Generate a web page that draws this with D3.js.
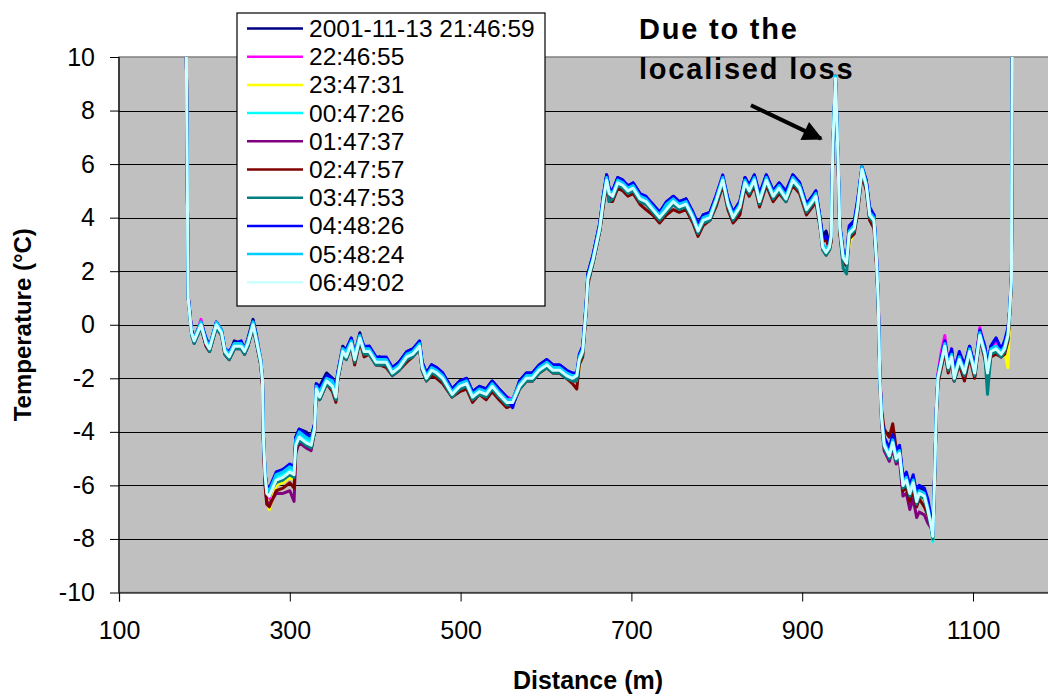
<!DOCTYPE html>
<html>
<head>
<meta charset="utf-8">
<script src="https://cdn.jsdelivr.net/npm/d3@7"></script>
<style>
    body { margin: 0; background: #fff; }
    svg { display: block; font-family: "Liberation Sans", Arial, sans-serif; }
</style>
</head>
<body>
<svg id="chart" width="1048" height="695"></svg>
<script>
// distance along the fibre (m)
let distance = [177, 181, 185, 188, 196, 202, 206, 214, 220, 224,
    229, 235, 243, 247, 251, 257, 261, 266, 268, 269,
    271, 273, 276, 284, 292, 300, 305, 307, 311, 319,
    325, 329, 331, 335, 343, 350, 354, 356, 362, 366,
    372, 376, 382, 387, 393, 401, 405, 413, 420, 428,
    437, 444, 452, 455, 460, 466, 472, 479, 490, 499,
    507, 514, 522, 530, 537, 545, 554, 561, 569, 577,
    584, 592, 601, 608, 616, 624, 631, 636, 639, 643,
    647, 649, 655, 659, 663, 667, 671, 674, 678, 684,
    690, 696, 702, 710, 717, 725, 733, 741, 749, 756,
    764, 772, 778, 784, 792, 799, 807, 813, 819, 827,
    833, 838, 844, 850, 858, 866, 873, 881, 889, 897,
    905, 912, 916, 920, 924, 928, 932, 934, 936, 939,
    942, 944, 948, 952, 955, 961, 965, 970, 975, 979,
    984, 987, 989, 991, 993, 996, 1002, 1006, 1010, 1014,
    1018, 1022, 1026, 1030, 1034, 1037, 1043, 1047, 1051, 1053,
    1055, 1057, 1059, 1063, 1067, 1071, 1075, 1078, 1084, 1090,
    1096, 1102, 1108, 1114, 1117, 1121, 1127, 1133, 1137, 1141,
    1143, 1145, 1147];

let t214659 = [18, 1.1, -0.2, -0.5, 0.1, -0.6, -0.8, 0.1, -0.2, -0.9,
    -1.1, -0.6, -0.7, -0.9, -0.5, 0.2, -0.4, -1.3, -2.0, -4.0,
    -5.5, -6.1, -6.2, -5.6, -5.4, -5.3, -5.4, -4.2, -3.9, -4.0,
    -4.2, -3.7, -2.2, -2.3, -1.8, -2.0, -2.5, -1.8, -0.8, -1.0,
    -0.5, -1.1, -0.3, -0.9, -0.8, -1.3, -1.2, -1.3, -1.6, -1.4,
    -1.0, -0.9, -0.7, -1.4, -1.8, -1.5, -1.6, -1.8, -2.4, -2.1,
    -2.0, -2.5, -2.3, -2.4, -2.1, -2.4, -2.7, -2.8, -2.1, -1.8,
    -1.8, -1.5, -1.3, -1.5, -1.5, -1.7, -1.9, -1.9, -1.2, -0.8,
    0.8, 1.9, 2.6, 3.2, 3.8, 4.8, 5.6, 5.1, 5.0, 5.5,
    5.4, 5.1, 5.3, 4.9, 4.7, 4.5, 4.2, 4.5, 4.8, 4.6,
    4.7, 4.2, 3.6, 4.1, 4.2, 4.8, 5.5, 4.7, 4.2, 4.6,
    5.5, 5.2, 5.6, 4.8, 5.6, 5.0, 5.3, 4.9, 5.6, 5.3,
    4.5, 4.8, 5.0, 4.2, 3.3, 3.5, 3.0, 3.4, 6.8, 9.1,
    6.1, 3.7, 2.7, 2.5, 3.6, 3.8, 4.6, 5.9, 5.4, 4.3,
    4.1, 2.5, 1.0, -2.0, -3.4, -4.3, -4.7, -4.2, -4.8, -4.6,
    -5.8, -5.6, -6.1, -5.7, -6.4, -6.1, -6.2, -6.8, -7.3, -7.8,
    -5.6, -3.2, -1.9, -1.2, -0.6, -1.4, -1.0, -1.8, -1.1, -1.6,
    -0.8, -1.6, -0.2, -0.9, -1.6, -0.8, -0.5, -1.0, -0.7, -0.2,
    0.6, 1.8, 18];

let t224655 = [18, 1.0, -0.2, -0.6, 0.2, -0.7, -0.9, 0.1, -0.3, -1.0,
    -1.2, -0.7, -0.8, -1.0, -0.6, 0.0, -0.6, -1.4, -2.2, -4.2,
    -5.7, -6.4, -6.5, -5.9, -5.8, -5.6, -5.7, -4.6, -4.1, -4.3,
    -4.5, -3.9, -2.3, -2.6, -2.0, -2.2, -2.7, -1.9, -0.9, -1.1,
    -0.6, -1.2, -0.4, -1.0, -0.9, -1.3, -1.5, -1.3, -1.7, -1.5,
    -1.2, -1.0, -0.8, -1.5, -1.8, -1.7, -1.6, -2.0, -2.5, -2.2,
    -2.3, -2.6, -2.5, -2.4, -2.3, -2.5, -2.7, -2.8, -2.2, -2.0,
    -1.9, -1.6, -1.5, -1.6, -1.7, -1.8, -2.0, -2.0, -1.3, -0.9,
    0.6, 1.8, 2.5, 3.1, 3.7, 4.7, 5.4, 5.1, 5.0, 5.4,
    5.3, 5.1, 5.0, 4.8, 4.7, 4.3, 4.1, 4.4, 4.7, 4.5,
    4.6, 4.1, 3.6, 3.9, 4.1, 4.8, 5.4, 4.6, 4.1, 4.5,
    5.4, 5.0, 5.4, 4.7, 5.5, 4.9, 5.1, 4.8, 5.4, 5.2,
    4.4, 4.8, 4.9, 4.1, 3.0, 2.8, 3.0, 3.3, 6.8, 9.2,
    6.2, 3.6, 2.6, 2.4, 3.5, 3.7, 4.5, 5.8, 5.3, 4.2,
    3.9, 2.5, 1.1, -1.9, -3.3, -4.4, -4.8, -4.3, -4.9, -4.6,
    -5.9, -5.7, -6.2, -5.8, -6.5, -6.2, -6.3, -6.8, -7.4, -7.8,
    -5.7, -3.2, -1.8, -1.0, -0.4, -1.5, -0.9, -1.9, -1.2, -1.7,
    -0.9, -1.7, -0.1, -1.0, -1.7, -0.9, -0.6, -1.0, -0.8, -0.3,
    0.5, 1.7, 18];

let t234731 = [18, 1.0, -0.3, -0.6, 0.1, -0.7, -0.9, 0.0, -0.4, -1.1,
    -1.2, -0.8, -0.9, -1.0, -0.6, 0.0, -0.5, -1.3, -2.1, -4.2,
    -5.8, -6.5, -6.9, -6.0, -5.9, -5.7, -5.8, -4.6, -4.3, -4.4,
    -4.5, -3.9, -2.5, -2.7, -2.1, -2.2, -2.8, -2.0, -0.9, -1.3,
    -0.7, -1.3, -0.6, -1.1, -1.0, -1.5, -1.4, -1.5, -1.8, -1.7,
    -1.3, -1.1, -0.9, -1.6, -2.1, -1.8, -1.9, -2.1, -2.7, -2.4,
    -2.3, -2.8, -2.5, -2.7, -2.4, -2.6, -3.0, -2.9, -2.4, -2.1,
    -2.0, -1.8, -1.6, -1.8, -1.8, -2.0, -2.1, -2.1, -1.6, -1.1,
    0.5, 1.6, 2.3, 3.0, 3.5, 4.5, 5.3, 4.9, 4.9, 5.3,
    5.2, 4.9, 5.0, 4.7, 4.5, 4.2, 3.9, 4.3, 4.5, 4.4,
    4.4, 4.0, 3.5, 3.8, 4.0, 4.5, 5.5, 4.4, 4.0, 4.3,
    5.2, 5.0, 5.3, 4.6, 5.3, 4.8, 5.0, 4.7, 5.3, 5.0,
    4.3, 4.5, 4.7, 4.0, 2.9, 2.6, 2.8, 3.2, 6.7, 9.1,
    6.2, 3.5, 2.4, 2.3, 3.0, 3.5, 4.4, 5.7, 5.1, 4.4,
    3.8, 2.3, 0.8, -2.2, -3.6, -4.6, -5.0, -4.5, -5.1, -4.9,
    -6.1, -5.9, -6.4, -6.0, -6.7, -6.4, -6.5, -7.0, -7.6, -8.0,
    -5.9, -3.4, -2.1, -1.5, -0.9, -1.7, -1.3, -2.0, -1.4, -1.9,
    -1.1, -1.8, -0.5, -1.2, -1.9, -1.1, -1.0, -1.2, -1.0, -1.6,
    0.4, 1.6, 18];

let t004726 = [18, 1.0, -0.3, -0.6, 0.0, -0.6, -0.9, 0.0, -0.3, -1.0,
    -1.1, -0.8, -0.7, -1.0, -0.7, 0.1, -0.6, -1.4, -2.1, -4.1,
    -5.6, -6.2, -6.3, -5.7, -5.6, -5.4, -5.5, -4.4, -4.1, -4.3,
    -4.4, -3.8, -2.4, -2.6, -2.0, -2.2, -2.6, -1.9, -1.0, -1.1,
    -0.7, -1.2, -0.5, -1.0, -0.9, -1.4, -1.3, -1.4, -1.7, -1.6,
    -1.1, -1.1, -0.8, -1.6, -1.9, -1.6, -1.8, -1.9, -2.5, -2.3,
    -2.1, -2.6, -2.4, -2.6, -2.2, -2.5, -2.9, -2.8, -2.2, -2.0,
    -1.9, -1.6, -1.5, -1.6, -1.6, -1.8, -2.0, -1.9, -1.3, -1.0,
    0.6, 1.7, 2.4, 3.1, 3.7, 4.7, 5.5, 5.0, 4.9, 5.4,
    5.3, 5.1, 5.2, 4.8, 4.7, 4.4, 4.1, 4.4, 4.7, 4.5,
    4.6, 4.1, 3.6, 4.0, 4.1, 4.7, 5.5, 4.6, 4.1, 4.5,
    5.4, 5.1, 5.5, 4.7, 5.5, 4.9, 5.2, 4.8, 5.5, 5.2,
    4.4, 4.7, 4.9, 4.1, 3.0, 2.8, 3.0, 3.4, 6.9, 9.2,
    6.3, 3.7, 2.6, 2.4, 3.5, 3.7, 4.5, 5.8, 5.3, 4.2,
    4.0, 2.4, 0.9, -2.1, -3.5, -4.4, -4.8, -4.3, -4.9, -4.7,
    -5.9, -5.7, -6.2, -5.8, -6.5, -6.2, -6.3, -6.9, -7.5, -8.1,
    -5.8, -3.3, -2.0, -1.3, -0.8, -1.5, -1.1, -1.9, -1.2, -1.7,
    -0.9, -1.7, -0.3, -1.0, -1.7, -0.9, -0.8, -1.0, -0.8, -0.4,
    0.5, 1.7, 18];

let t014737 = [18, 1.0, -0.3, -0.7, -0.1, -0.8, -1.0, -0.1, -0.4, -1.1,
    -1.3, -0.9, -0.9, -1.1, -0.8, -0.1, -0.7, -1.5, -2.2, -4.3,
    -5.9, -6.6, -6.7, -6.3, -6.3, -6.2, -6.6, -4.8, -4.4, -4.6,
    -4.7, -4.0, -2.5, -2.8, -2.2, -2.4, -2.8, -2.1, -1.1, -1.3,
    -0.8, -1.4, -0.6, -1.1, -1.1, -1.5, -1.5, -1.5, -1.9, -1.7,
    -1.3, -1.2, -0.9, -1.7, -2.1, -1.8, -1.9, -2.1, -2.7, -2.4,
    -2.3, -2.8, -2.6, -2.7, -2.4, -2.7, -3.0, -3.0, -2.4, -2.1,
    -2.1, -1.8, -1.6, -1.8, -1.8, -2.0, -2.1, -2.1, -1.4, -1.1,
    0.5, 1.6, 2.3, 2.9, 3.5, 4.5, 5.3, 4.8, 4.7, 5.2,
    5.1, 4.9, 5.0, 4.6, 4.5, 4.2, 3.9, 4.2, 4.5, 4.3,
    4.4, 3.9, 3.4, 3.8, 3.9, 4.5, 5.3, 4.4, 3.9, 4.3,
    5.2, 4.9, 5.3, 4.5, 5.3, 4.7, 5.0, 4.6, 5.3, 5.0,
    4.2, 4.5, 4.7, 3.9, 2.8, 2.6, 2.8, 3.2, 6.7, 9.1,
    6.1, 3.5, 2.4, 2.2, 3.3, 3.5, 4.3, 5.7, 5.1, 4.0,
    3.8, 2.3, 0.8, -2.2, -3.7, -4.7, -5.1, -4.6, -5.2, -5.1,
    -6.4, -6.3, -6.9, -6.5, -7.2, -7.0, -7.1, -7.4, -7.6, -7.9,
    -5.9, -3.4, -2.1, -1.5, -0.9, -1.7, -1.3, -2.1, -1.4, -1.9,
    -1.1, -1.9, -0.5, -1.2, -1.9, -1.1, -1.0, -1.2, -1.0, -0.5,
    0.4, 1.6, 18];

let t024757 = [18, 1.0, -0.3, -0.6, -0.1, -0.8, -1.0, -0.1, -0.3, -1.1,
    -1.3, -0.9, -0.8, -1.1, -0.8, -0.1, -0.7, -1.5, -2.3, -4.3,
    -6.0, -6.7, -6.8, -6.2, -6.1, -5.9, -6.1, -4.7, -4.3, -4.5,
    -4.6, -4.0, -2.5, -2.8, -2.2, -2.5, -2.9, -2.1, -1.1, -1.3,
    -0.8, -1.5, -0.6, -1.2, -1.1, -1.5, -1.5, -1.6, -1.9, -1.7,
    -1.4, -1.2, -0.9, -1.7, -2.1, -1.9, -2.0, -2.2, -2.7, -2.5,
    -2.4, -2.9, -2.6, -2.8, -2.5, -2.8, -3.1, -3.0, -2.4, -2.1,
    -2.1, -1.8, -1.6, -1.8, -1.8, -2.0, -2.2, -2.4, -1.5, -1.2,
    0.5, 1.5, 2.3, 2.9, 3.5, 4.4, 5.2, 4.6, 4.6, 5.1,
    5.0, 4.8, 4.9, 4.5, 4.3, 4.1, 3.8, 4.1, 4.3, 4.2,
    4.3, 3.8, 3.3, 3.7, 3.9, 4.4, 5.2, 4.3, 3.8, 4.1,
    5.1, 4.8, 5.2, 4.4, 5.2, 4.6, 4.9, 4.6, 5.2, 4.9,
    4.1, 4.4, 4.6, 3.8, 3.1, 3.2, 2.8, 3.1, 6.6, 9.3,
    6.0, 3.4, 2.3, 2.2, 3.2, 3.4, 4.2, 5.6, 5.0, 3.9,
    3.6, 2.2, 0.7, -2.0, -3.2, -3.9, -4.2, -3.7, -4.6, -4.6,
    -6.2, -6.1, -6.6, -6.2, -6.8, -6.5, -6.8, -7.1, -7.5, -7.9,
    -5.9, -3.4, -2.2, -1.6, -1.0, -1.8, -1.3, -2.1, -1.5, -2.1,
    -1.2, -2.0, -0.5, -1.3, -2.0, -1.2, -1.1, -1.2, -1.1, -0.6,
    0.4, 1.6, 18];

let t034753 = [18, 1.0, -0.4, -0.7, -0.1, -0.7, -1.0, -0.1, -0.4, -1.1,
    -1.3, -0.9, -0.9, -1.1, -0.8, -0.1, -0.7, -1.5, -2.2, -4.2,
    -5.7, -6.2, -6.3, -5.9, -5.8, -5.6, -5.7, -4.6, -4.3, -4.5,
    -4.6, -4.0, -2.5, -2.8, -2.2, -2.4, -2.8, -2.1, -1.1, -1.3,
    -0.8, -1.4, -0.6, -1.1, -1.1, -1.5, -1.5, -1.5, -1.9, -1.7,
    -1.3, -1.2, -0.9, -1.7, -2.1, -1.8, -1.9, -2.1, -2.7, -2.4,
    -2.3, -2.8, -2.6, -2.7, -2.4, -2.7, -3.0, -3.0, -2.4, -2.1,
    -2.1, -1.8, -1.6, -1.8, -1.8, -2.0, -2.1, -2.1, -1.4, -1.1,
    0.5, 1.6, 2.3, 2.9, 3.5, 4.5, 5.3, 4.6, 4.7, 5.2,
    5.1, 4.9, 5.0, 4.6, 4.5, 4.2, 3.9, 4.2, 4.5, 4.3,
    4.4, 3.9, 3.4, 3.8, 3.9, 4.5, 5.3, 4.4, 3.9, 4.3,
    5.2, 4.9, 5.3, 4.5, 5.3, 4.7, 5.0, 4.6, 5.3, 5.0,
    4.2, 4.5, 4.7, 3.9, 2.8, 2.6, 2.8, 3.2, 6.7, 9.1,
    6.1, 3.5, 2.1, 1.9, 3.3, 3.5, 4.3, 5.7, 5.1, 4.0,
    3.8, 2.3, 0.8, -2.2, -3.6, -4.6, -5.0, -4.5, -5.1, -4.9,
    -6.1, -5.9, -6.4, -6.0, -6.7, -6.4, -6.5, -7.0, -7.6, -8.0,
    -5.9, -3.4, -2.1, -1.5, -0.9, -1.7, -1.3, -2.1, -1.4, -1.9,
    -1.1, -1.9, -0.5, -1.2, -2.6, -1.1, -1.0, -1.2, -1.0, -0.5,
    0.4, 1.6, 18];

let t044826 = [18, 1.1, -0.2, -0.5, 0.1, -0.5, -0.8, 0.1, -0.2, -0.9,
    -1.0, -0.7, -0.6, -0.9, -0.6, 0.1, -0.5, -1.3, -2.0, -4.0,
    -5.5, -6.0, -6.1, -5.5, -5.4, -5.2, -5.3, -4.2, -3.9, -4.1,
    -4.2, -3.7, -2.2, -2.4, -1.9, -2.0, -2.4, -1.8, -0.9, -0.9,
    -0.5, -1.1, -0.4, -0.8, -0.8, -1.2, -1.2, -1.2, -1.6, -1.4,
    -1.0, -0.9, -0.6, -1.4, -1.8, -1.5, -1.6, -1.8, -2.4, -2.1,
    -2.0, -2.5, -2.3, -2.4, -2.1, -2.4, -2.7, -3.1, -2.1, -1.8,
    -1.8, -1.5, -1.3, -1.5, -1.5, -1.7, -1.8, -1.8, -1.1, -0.8,
    0.8, 1.9, 2.6, 3.2, 3.8, 4.8, 5.6, 5.1, 5.0, 5.5,
    5.4, 5.2, 5.3, 4.9, 4.8, 4.5, 4.2, 4.6, 4.8, 4.6,
    4.7, 4.2, 3.8, 4.1, 4.2, 4.8, 5.6, 4.7, 4.2, 4.6,
    5.5, 5.2, 5.6, 4.9, 5.6, 5.0, 5.3, 5.0, 5.6, 5.3,
    4.5, 4.8, 5.0, 4.2, 3.2, 3.3, 3.1, 3.5, 6.9, 9.2,
    6.3, 3.8, 2.7, 2.5, 3.7, 3.9, 4.7, 5.9, 5.4, 4.4,
    4.1, 2.6, 1.0, -2.0, -3.4, -4.2, -4.6, -4.1, -4.7, -4.5,
    -5.7, -5.5, -6.0, -5.6, -6.3, -6.0, -6.1, -6.5, -7.2, -7.8,
    -5.6, -3.2, -1.9, -1.2, -0.6, -1.4, -0.9, -1.7, -1.0, -1.5,
    -0.8, -1.6, -0.2, -0.8, -1.5, -0.8, -0.5, -0.9, -0.6, -0.1,
    0.6, 1.8, 18];

let t054824 = [18, 1.0, -0.3, -0.5, 0.1, -0.6, -0.8, 0.1, -0.2, -0.9,
    -1.1, -0.7, -0.7, -0.9, -0.6, 0.1, -0.5, -1.3, -2.0, -4.0,
    -5.5, -6.1, -6.2, -5.6, -5.5, -5.3, -5.4, -4.3, -4.0, -4.2,
    -4.3, -3.8, -2.3, -2.5, -2.0, -2.1, -2.5, -1.9, -0.9, -1.0,
    -0.6, -1.1, -0.4, -0.9, -0.9, -1.3, -1.3, -1.3, -1.7, -1.5,
    -1.1, -1.0, -0.7, -1.5, -1.9, -1.6, -1.7, -1.9, -2.5, -2.2,
    -2.1, -2.6, -2.4, -2.5, -2.2, -2.5, -2.8, -2.8, -2.2, -1.9,
    -1.9, -1.6, -1.4, -1.6, -1.6, -1.8, -1.9, -1.9, -1.2, -0.9,
    0.7, 1.8, 2.5, 3.1, 3.7, 4.7, 5.5, 5.0, 4.9, 5.4,
    5.3, 5.1, 5.2, 4.8, 4.7, 4.4, 4.1, 4.5, 4.7, 4.5,
    4.6, 4.1, 3.6, 4.0, 4.1, 4.7, 5.5, 4.6, 4.1, 4.5,
    5.4, 5.1, 5.5, 4.7, 5.5, 4.9, 5.2, 4.8, 5.5, 5.2,
    4.4, 4.7, 4.9, 4.1, 3.0, 2.8, 3.0, 3.4, 6.9, 9.3,
    6.3, 3.7, 2.6, 2.4, 3.5, 3.7, 4.5, 5.9, 5.3, 4.2,
    4.0, 2.5, 1.0, -2.0, -3.4, -4.4, -4.8, -4.3, -4.9, -4.7,
    -5.9, -5.7, -6.2, -5.8, -6.5, -6.2, -6.3, -6.8, -7.4, -7.9,
    -5.7, -3.2, -1.9, -1.3, -0.7, -1.5, -1.1, -1.9, -1.2, -1.7,
    -0.9, -1.7, -0.3, -1.0, -1.7, -0.9, -0.8, -1.0, -0.8, -0.3,
    0.6, 1.7, 18];

let t064902 = [18, 1.0, -0.3, -0.6, 0.0, -0.7, -0.9, 0.0, -0.3, -1.0,
    -1.2, -0.8, -0.8, -1.0, -0.7, 0.0, -0.6, -1.4, -2.1, -4.1,
    -5.6, -6.3, -6.4, -5.8, -5.7, -5.5, -5.6, -4.5, -4.2, -4.4,
    -4.5, -3.9, -2.4, -2.7, -2.1, -2.3, -2.7, -2.0, -1.0, -1.2,
    -0.7, -1.3, -0.5, -1.0, -1.0, -1.4, -1.4, -1.4, -1.8, -1.6,
    -1.2, -1.1, -0.8, -1.6, -2.0, -1.7, -1.8, -2.0, -2.6, -2.3,
    -2.2, -2.7, -2.5, -2.6, -2.3, -2.6, -2.9, -2.9, -2.3, -2.0,
    -2.0, -1.7, -1.5, -1.7, -1.7, -1.9, -2.0, -1.9, -1.3, -1.0,
    0.6, 1.7, 2.4, 3.0, 3.6, 4.6, 5.4, 4.9, 4.8, 5.3,
    5.2, 5.0, 5.1, 4.7, 4.6, 4.3, 4.0, 4.3, 4.6, 4.4,
    4.5, 4.0, 3.5, 3.9, 4.0, 4.6, 5.4, 4.5, 4.0, 4.4,
    5.3, 5.0, 5.4, 4.6, 5.4, 4.8, 5.1, 4.7, 5.4, 5.1,
    4.3, 4.6, 4.8, 4.0, 2.9, 2.7, 2.9, 3.3, 6.8, 9.2,
    6.2, 3.6, 2.5, 2.3, 3.4, 3.6, 4.4, 5.8, 5.2, 4.1,
    3.9, 2.4, 0.9, -2.1, -3.5, -4.5, -4.9, -4.4, -5.0, -4.8,
    -6.0, -5.8, -6.3, -5.9, -6.6, -6.3, -6.4, -6.9, -7.5, -7.9,
    -5.8, -3.3, -2.0, -1.4, -0.8, -1.6, -1.2, -2.0, -1.3, -1.8,
    -1.0, -1.8, -0.4, -1.1, -1.8, -1.0, -0.9, -1.1, -0.9, -0.4,
    0.5, 1.7, 18];

let seriesNames = ["2001-11-13 21:46:59", "22:46:55", "23:47:31", "00:47:26", "01:47:37",
    "02:47:57", "03:47:53", "04:48:26", "05:48:24", "06:49:02"];
let seriesValues = [t214659, t224655, t234731, t004726, t014737,
    t024757, t034753, t044826, t054824, t064902];
let seriesColors = ["#000080", "#FF00FF", "#FFFF00", "#00FFFF", "#800080",
    "#800000", "#008080", "#0000FF", "#00CCFF", "#CCFFFF"];

let xTicks = [100, 300, 500, 700, 900, 1100];
let yTicks = [-10, -8, -6, -4, -2, 0, 2, 4, 6, 8, 10];

let svg = d3.select("#chart");
let plotLeft = 119, plotTop = 57, plotBottom = 592.5;
let pxPerMetre = 0.854;

let xScale = d3.scaleLinear()
    .domain([100, 1200])
    .range([plotLeft, plotLeft + 1100 * pxPerMetre]);
let yScale = d3.scaleLinear()
    .domain([-10, 10])
    .range([plotBottom, plotTop]);

svg.append("rect").attr("width", 1048).attr("height", 695).attr("fill", "#fff");

// plot area
svg.append("rect")
    .attr("x", xScale(100)).attr("y", yScale(10))
    .attr("width", xScale(1200) - xScale(100))
    .attr("height", yScale(-10) - yScale(10))
    .attr("fill", "#C0C0C0")
    .attr("stroke", "#808080")
    .attr("stroke-width", 1.5);

svg.append("g")
    .selectAll("line")
    .data(yTicks.filter(d => d > -10 && d < 10))
    .enter().append("line")
    .attr("x1", xScale(100)).attr("x2", xScale(1200))
    .attr("y1", d => Math.round(yScale(d)) + 0.5)
    .attr("y2", d => Math.round(yScale(d)) + 0.5)
    .attr("stroke", "#000")
    .attr("stroke-width", 1);

svg.append("clipPath").attr("id", "plotClip")
    .append("rect")
    .attr("x", xScale(100)).attr("y", yScale(10))
    .attr("width", xScale(1200) - xScale(100))
    .attr("height", yScale(-10) - yScale(10));

let line = d3.line()
    .x((d, i) => xScale(distance[i]))
    .y(d => yScale(d));

svg.append("g")
    .attr("clip-path", "url(#plotClip)")
    .selectAll("path")
    .data(seriesValues)
    .enter().append("path")
    .attr("d", d => line(d))
    .attr("fill", "none")
    .attr("stroke", (d, i) => seriesColors[i])
    .attr("stroke-width", 3)
    .attr("stroke-linejoin", "round");

// axes
let yAxis = d3.axisLeft(yScale)
    .tickValues(yTicks)
    .tickFormat(d => String(d))
    .tickSize(9)
    .tickPadding(15);
let yG = svg.append("g")
    .attr("transform", "translate(" + plotLeft + ",0)")
    .call(yAxis);

let xAxis = d3.axisBottom(xScale)
    .tickValues(xTicks)
    .tickFormat(d => String(d))
    .tickSize(9)
    .tickPadding(20);
let xG = svg.append("g")
    .attr("transform", "translate(0," + plotBottom + ")")
    .call(xAxis);

[yG, xG].forEach(g => {
    g.select(".domain").attr("stroke", "#000").attr("stroke-width", 1.2);
    g.selectAll(".tick line").attr("stroke", "#000");
    g.selectAll("text")
        .attr("font-family", "'Liberation Sans', Arial, sans-serif")
        .attr("font-size", 25)
        .attr("fill", "#000");
});
yG.select(".domain").attr("d", "M0," + plotTop + "V" + plotBottom);

svg.append("text")
    .attr("x", 588).attr("y", 689)
    .attr("text-anchor", "middle")
    .attr("font-size", 25).attr("font-weight", "bold")
    .text("Distance (m)");

svg.append("text")
    .attr("transform", "translate(31," + yScale(0) + ") rotate(-90)")
    .attr("text-anchor", "middle")
    .attr("font-size", 24).attr("font-weight", "bold")
    .text("Temperature (°C)");

// legend
let legend = svg.append("g");
legend.append("rect")
    .attr("x", 237).attr("y", 13)
    .attr("width", 308).attr("height", 293)
    .attr("fill", "#fff")
    .attr("stroke", "#000")
    .attr("stroke-width", 1.2);

let rows = legend.selectAll("g.row")
    .data(seriesNames)
    .enter().append("g")
    .attr("class", "row")
    .attr("transform", (d, i) => "translate(0," + (28.5 + i * 28.2) + ")");
rows.append("line")
    .attr("x1", 247).attr("x2", 303)
    .attr("stroke", (d, i) => seriesColors[i])
    .attr("stroke-width", 2.5);
rows.append("text")
    .attr("x", 309).attr("dy", "0.35em")
    .attr("font-size", 24.5)
    .text(d => d);

// annotation
let note = svg.append("text")
    .attr("font-size", 29).attr("font-weight", "bold")
    .attr("letter-spacing", 1.8);
note.append("tspan").attr("x", 639).attr("y", 39).text("Due to the");
note.append("tspan").attr("x", 639).attr("y", 79).text("localised loss");

svg.append("defs").append("marker")
    .attr("id", "arrowHead")
    .attr("viewBox", "0 0 10 10")
    .attr("refX", 9).attr("refY", 5)
    .attr("markerWidth", 6).attr("markerHeight", 5)
    .attr("markerUnits", "strokeWidth")
    .attr("orient", "auto")
    .append("path")
    .attr("d", "M0,0L10,5L0,10Z")
    .attr("fill", "#000");

svg.append("line")
    .attr("x1", xScale(840)).attr("y1", yScale(8.2))
    .attr("x2", xScale(922)).attr("y2", yScale(6.95))
    .attr("stroke", "#000")
    .attr("stroke-width", 4)
    .attr("marker-end", "url(#arrowHead)");
</script>
</body>
</html>
